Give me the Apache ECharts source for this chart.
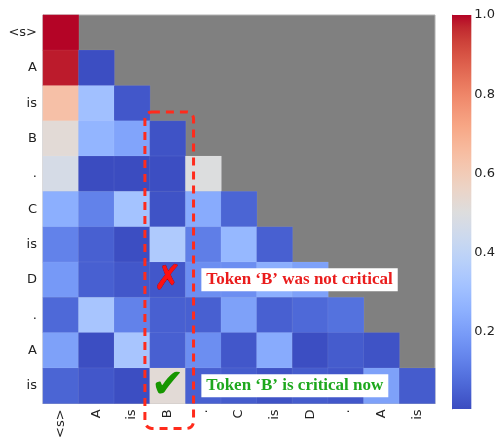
<!DOCTYPE html>
<html><head><meta charset="utf-8">
<script src="https://cdn.jsdelivr.net/npm/echarts@6/dist/echarts.min.js"></script>
<style>html,body{margin:0;padding:0;background:#fff}#c{width:498px;height:441px}</style>
</head><body><div id="c"></div>
<script>
const tokens = ['<s>','A','is','B','.','C','is','D','.','A','is'];
const w0  = [1.0];
const w1  = [0.98, 0.01];
const w2  = [0.64, 0.31, 0.03];
const w3  = [0.52, 0.27, 0.22, 0.02];
const w4  = [0.47, 0.005, 0.005, 0.01, 0.50];
const w5  = [0.25, 0.13, 0.32, 0.02, 0.24, 0.06];
const w6  = [0.13, 0.05, 0.01, 0.35, 0.12, 0.28, 0.05];
const w7  = [0.19, 0.05, 0.03, 0.03, 0.16, 0.16, 0.25, 0.21];
const w8  = [0.07, 0.33, 0.13, 0.05, 0.05, 0.21, 0.05, 0.07, 0.09];
const w9  = [0.21, 0.01, 0.33, 0.05, 0.16, 0.03, 0.24, 0.01, 0.04, 0.02];
const w10 = [0.06, 0.03, 0.01, 0.52, 0.05, 0.04, 0.02, 0.04, 0.03, 0.21, 0.04];
const rows = [w0,w1,w2,w3,w4,w5,w6,w7,w8,w9,w10];
const cbMin = 0.005, cbMax = 1.0;
const cbTicks = [0.2, 0.4, 0.6, 0.8, 1.0];
const focusCol = 3;       // token 'B'
const notCriticalRow = 7; // 'D'
const criticalRow = 10;   // last 'is'
const noteRed = 'Token \u2018B\u2019 was not critical';
const noteGreen = 'Token \u2018B\u2019 is critical now';

const coolwarm = ['#3b4cc0','#445acc','#4d68d7','#5775e1','#6282ea','#6c8ef1','#779af7','#82a5fb','#8db0fe','#98b9ff','#a3c2ff','#aec9fd','#b8d0f9','#c2d5f4','#ccd9ee','#d5dbe6','#dddddd','#e5d8d1','#ecd3c5','#f1ccb8','#f5c4ac','#f7bb9f','#f7b192','#f7a685','#f49a7b','#f18d6f','#ec7f63','#e57058','#de604d','#d55042','#cb3e38','#c0282f','#b40426'];

const data = [];
rows.forEach((r, i) => r.forEach((v, j) => data.push([j, i, v])));

const chart = echarts.init(document.getElementById('c'), null, {renderer: 'canvas'});
const axisColor = '#b0b0b0';
chart.setOption({
  animation: false,
  backgroundColor: '#ffffff',
  textStyle: {fontFamily: 'DejaVu Sans'},
  grid: [
    {left: 43, top: 15, width: 392, height: 392, show: true, backgroundColor: '#808080', borderColor: axisColor, borderWidth: 1},
    {left: 452, top: 15, width: 20, height: 394}
  ],
  xAxis: [
    {type: 'category', gridIndex: 0, data: tokens, position: 'bottom',
     axisLine: {show: true, lineStyle: {color: axisColor}}, axisTick: {show: false},
     axisLabel: {rotate: 90, fontSize: 13, color: '#222', margin: 6, interval: 0}, splitLine: {show: false}},
    {type: 'value', gridIndex: 1, show: false}
  ],
  yAxis: [
    {type: 'category', gridIndex: 0, data: tokens, inverse: true,
     axisLine: {show: true, lineStyle: {color: axisColor}}, axisTick: {show: false},
     axisLabel: {fontSize: 13, color: '#222', margin: 6, interval: 0}, splitLine: {show: false}},
    {type: 'value', gridIndex: 1, min: cbMin, max: cbMax, position: 'right',
     axisLine: {show: true, lineStyle: {color: axisColor}},
     axisTick: {show: false},
     axisLabel: {fontSize: 13, color: '#222', margin: 3, customValues: cbTicks, formatter: v => v.toFixed(1)},
     splitLine: {show: false}}
  ],
  visualMap: {
    type: 'continuous', show: false, min: cbMin, max: cbMax,
    seriesIndex: 0, inRange: {color: coolwarm}
  },
  series: [{
    type: 'heatmap', xAxisIndex: 0, yAxisIndex: 0, data: data,
    itemStyle: {borderColor: 'rgba(255,255,255,0.12)', borderWidth: 0.6},
    emphasis: {disabled: true}
  }]
});

function px(c, r) { return chart.convertToPixel({gridIndex: 0}, [c, r]); }
const c0 = px(0, 0), c1 = px(1, 1);
const cw = c1[0] - c0[0], ch = c1[1] - c0[1];
const bTop = px(focusCol, focusCol);
const bottomPx = px(focusCol, rows.length - 1);
const rx1 = bTop[0] - cw / 2 - 5, rx2 = bTop[0] + cw / 2 + 8;
const ry1 = bTop[1] - ch / 2 - 9, ry2 = bottomPx[1] + ch / 2 + 25;
const xMark = px(focusCol, notCriticalRow);
const vMark = px(focusCol, criticalRow);
const noteRedPos = px(focusCol + 1, notCriticalRow);
const noteGreenPos = px(focusCol + 1, criticalRow);

// colorbar rectangle from the colour scale
const cbGrid = chart.getModel().getComponent('grid', 1).coordinateSystem.getRect();
const stops = coolwarm.map((c, i) => ({offset: 1 - i / (coolwarm.length - 1), color: c}));

chart.setOption({
  graphic: [
    {type: 'rect', z: 5, shape: {x: cbGrid.x, y: cbGrid.y, width: cbGrid.width, height: cbGrid.height},
     style: {fill: new echarts.graphic.LinearGradient(0, 0, 0, 1, stops.slice().reverse()), stroke: null}},
    {type: 'rect', z: 100, shape: {x: rx1, y: ry1, width: rx2 - rx1, height: ry2 - ry1, r: 7},
     style: {fill: null, stroke: '#ff2b1c', lineWidth: 3, lineDash: [8, 6]}},
    {type: 'text', z: 101, style: {text: '\u2717', x: xMark[0], y: xMark[1], align: 'center', verticalAlign: 'middle',
      fill: '#ff1010', stroke: '#b00000', lineWidth: 0.6, font: 'bold 34px DejaVu Sans'}},
    {type: 'text', z: 101, style: {text: '\u2714', x: vMark[0], y: vMark[1] + 1, align: 'center', verticalAlign: 'middle',
      fill: '#169600', font: 'bold 40px DejaVu Sans'}},
    {type: 'text', z: 101, style: {text: noteRed, x: noteRedPos[0] - 2, y: noteRedPos[1], align: 'left', verticalAlign: 'middle',
      fill: '#ea1c1c', font: 'bold 17px "Liberation Serif"', backgroundColor: '#ffffff', padding: [3, 5, 3, 5]}},
    {type: 'text', z: 101, style: {text: noteGreen, x: noteGreenPos[0] - 2, y: noteGreenPos[1], align: 'left', verticalAlign: 'middle',
      fill: '#1ea81e', font: 'bold 17px "Liberation Serif"', backgroundColor: '#ffffff', padding: [3, 5, 3, 5]}}
  ]
});
</script>
</body></html>
